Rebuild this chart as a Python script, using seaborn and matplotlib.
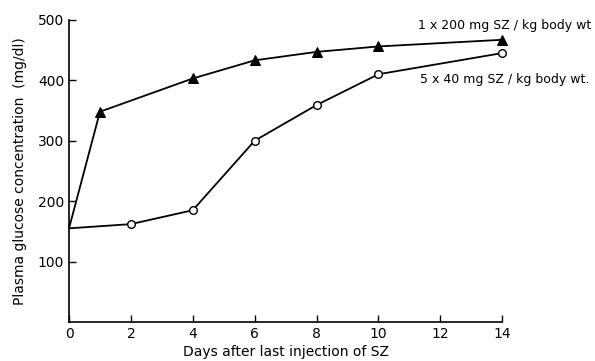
import matplotlib
matplotlib.use("Agg")
import matplotlib.pyplot as plt
import seaborn as sns
import pandas as pd

days_single = [0, 1, 4, 6, 8, 10, 14]
glucose_single = [155, 348, 403, 433, 447, 456, 467]
days_multi = [0, 2, 4, 6, 8, 10, 14]
glucose_multi = [155, 162, 185, 300, 359, 410, 445]
label_single = "1 x 200 mg SZ / kg body wt"
label_multi = "5 x 40 mg SZ / kg body wt."
xticks = [0, 2, 4, 6, 8, 10, 12, 14]
yticks = [100, 200, 300, 400, 500]

sns.set_style("ticks")
plt.rcParams['font.family'] = ['DejaVu Sans']
plt.rcParams['text.color'] = 'black'
plt.rcParams['axes.labelcolor'] = 'black'

fig = plt.figure(figsize=(5.95, 3.61), dpi=100)
ax = fig.add_axes([0.116, 0.108, 0.728, 0.837])

df1 = pd.DataFrame({"day": days_single, "glucose": glucose_single})
df2 = pd.DataFrame({"day": days_multi, "glucose": glucose_multi})

sns.lineplot(data=df1, x="day", y="glucose", ax=ax, color="black", lw=1.3,
             marker="^", markersize=7.5, markerfacecolor="black",
             markeredgecolor="black", markevery=list(range(1, len(days_single))),
             clip_on=False)
sns.lineplot(data=df2, x="day", y="glucose", ax=ax, color="black", lw=1.3,
             marker="o", markersize=5.5, markerfacecolor="white",
             markeredgecolor="black", markeredgewidth=1.0,
             markevery=list(range(1, len(days_multi))), clip_on=False)

ax.set_xlim(0, 14)
ax.set_ylim(0, 500)
ax.set_xticks(xticks)
ax.set_yticks(yticks)
ax.tick_params(direction="in", length=5, width=1, labelsize=10, colors="black")
for s in ["top", "right"]:
    ax.spines[s].set_visible(False)
for s in ["left", "bottom"]:
    ax.spines[s].set_linewidth(1.2)
    ax.spines[s].set_color("black")

ax.set_xlabel("Days after last injection of SZ", fontsize=10, labelpad=3)
ax.set_ylabel("Plasma glucose concentration  (mg/dl)", fontsize=10, labelpad=8)

fig.text(418 / 595, 1 - 25 / 361, label_single, fontsize=9, va="center", ha="left")
fig.text(420 / 595, 1 - 80 / 361, label_multi, fontsize=9, va="center", ha="left")

fig.savefig("out.png", dpi=100)
